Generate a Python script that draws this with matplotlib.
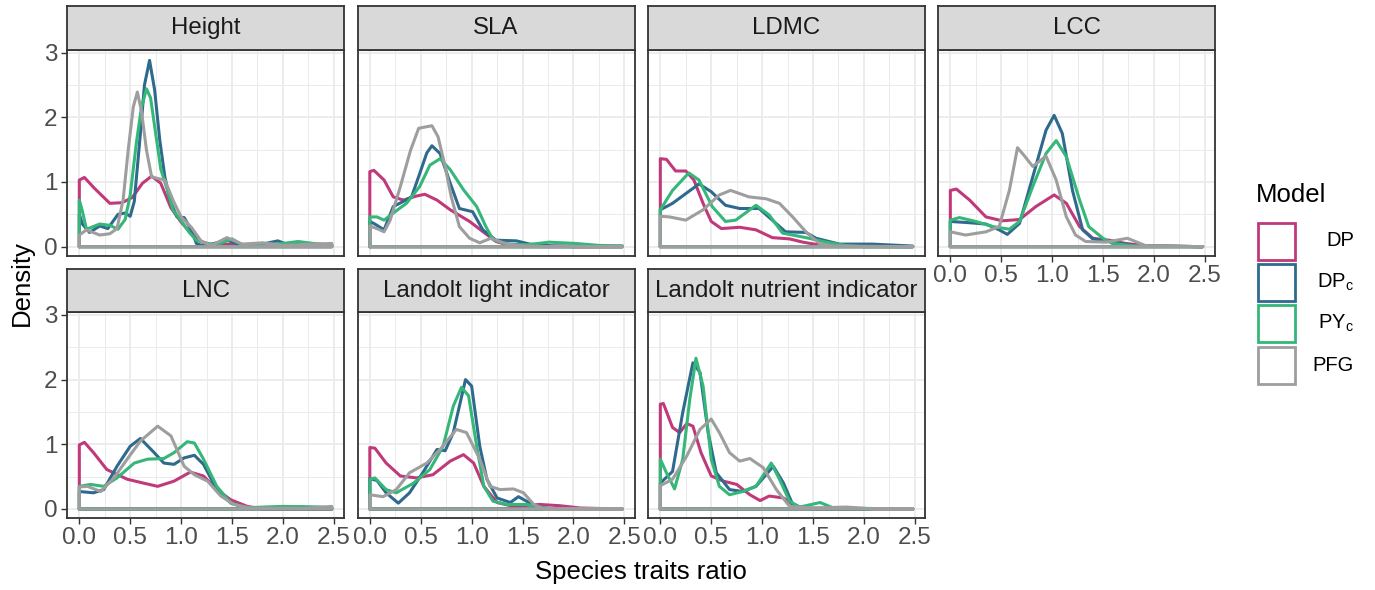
import matplotlib
matplotlib.use("Agg")
import matplotlib.pyplot as plt
from matplotlib.patches import Rectangle

plt.rcParams['font.family'] = ['Liberation Sans', 'DejaVu Sans']
plt.rcParams['mathtext.fontset'] = 'custom'
plt.rcParams['mathtext.rm'] = 'Liberation Sans'

# ---------------- data ----------------
models = ["DP", "DPc", "PYc", "PFG"]
model_labels = [r"DP", r"DP$_\mathregular{c}$", r"PY$_\mathregular{c}$", r"PFG"]
model_colors = ["#C0397A", "#2E6A8E", "#35B779", "#9E9E9E"]
panel_titles = ["Height", "SLA", "LDMC", "LCC", "LNC",
                "Landolt light indicator", "Landolt nutrient indicator"]
x_ticks = [0.0, 0.5, 1.0, 1.5, 2.0, 2.5]
x_tick_labels = ["0.0", "0.5", "1.0", "1.5", "2.0", "2.5"]
y_ticks = [0, 1, 2, 3]
y_tick_labels = ["0", "1", "2", "3"]

height_dp = [(0, 1.03), (0.05, 1.07), (0.15, 0.9), (0.3, 0.67), (0.42, 0.68), (0.52, 0.76),
             (0.62, 0.98), (0.71, 1.09), (0.8, 0.98), (0.9, 0.6), (1.0, 0.38), (1.1, 0.2),
             (1.2, 0.08), (1.3, 0.03), (1.5, 0.04), (1.7, 0.03), (2.0, 0.02), (2.3, 0.02), (2.48, 0.02)]
height_dpc = [(0, 0.5), (0.03, 0.35), (0.1, 0.22), (0.2, 0.32), (0.28, 0.28), (0.38, 0.5),
              (0.45, 0.52), (0.5, 0.47), (0.54, 0.7), (0.6, 1.75), (0.64, 2.5), (0.69, 2.88),
              (0.74, 2.42), (0.79, 1.65), (0.84, 1.08), (0.89, 0.72), (0.96, 0.46), (1.03, 0.45),
              (1.1, 0.26), (1.15, 0.05), (1.2, 0.02), (1.3, 0.04), (1.45, 0.1), (1.6, 0.02),
              (1.8, 0.04), (1.95, 0.09), (2.05, 0.03), (2.3, 0.04), (2.48, 0.03)]
height_pyc = [(0, 0.72), (0.03, 0.55), (0.07, 0.27), (0.12, 0.3), (0.2, 0.35), (0.3, 0.33),
              (0.38, 0.27), (0.45, 0.42), (0.5, 0.8), (0.56, 1.6), (0.61, 2.15), (0.66, 2.44),
              (0.7, 2.3), (0.75, 1.75), (0.8, 1.2), (0.86, 0.9), (0.92, 0.57), (1.0, 0.4),
              (1.08, 0.22), (1.15, 0.1), (1.25, 0.05), (1.35, 0.03), (1.5, 0.12), (1.6, 0.03),
              (1.8, 0.03), (2.0, 0.05), (2.15, 0.08), (2.3, 0.05), (2.48, 0.02)]
height_pfg = [(0, 0.18), (0.07, 0.26), (0.2, 0.18), (0.3, 0.2), (0.37, 0.28), (0.43, 0.72),
              (0.48, 1.49), (0.53, 2.16), (0.57, 2.39), (0.61, 2.1), (0.66, 1.49), (0.71, 1.08),
              (0.78, 1.05), (0.84, 1.03), (0.92, 0.72), (1.0, 0.46), (1.1, 0.3), (1.2, 0.08),
              (1.3, 0.02), (1.45, 0.14), (1.6, 0.04), (1.8, 0.06), (2.0, 0.02), (2.3, 0.04), (2.48, 0.05)]

sla_dp = [(0, 1.16), (0.04, 1.18), (0.14, 1.03), (0.23, 0.77), (0.33, 0.72), (0.45, 0.78),
          (0.54, 0.81), (0.66, 0.72), (0.79, 0.57), (0.98, 0.39), (1.18, 0.15), (1.24, 0.08),
          (1.35, 0.03), (1.6, 0.02), (2.0, 0.0), (2.48, 0.0)]
sla_dpc = [(0, 0.39), (0.05, 0.35), (0.14, 0.26), (0.23, 0.62), (0.33, 0.7), (0.41, 0.77),
           (0.49, 1.13), (0.56, 1.45), (0.61, 1.56), (0.69, 1.44), (0.79, 0.98), (0.88, 0.59),
           (1.01, 0.54), (1.11, 0.26), (1.24, 0.1), (1.44, 0.09), (1.57, 0.04), (1.8, 0.01), (2.48, 0.01)]
sla_pyc = [(0, 0.46), (0.07, 0.46), (0.14, 0.41), (0.23, 0.52), (0.36, 0.67), (0.49, 0.93),
           (0.59, 1.26), (0.69, 1.36), (0.79, 1.19), (0.92, 0.88), (1.05, 0.62), (1.14, 0.31),
           (1.21, 0.11), (1.34, 0.04), (1.55, 0.03), (1.76, 0.07), (2.02, 0.05), (2.25, 0.02), (2.48, 0.01)]
sla_pfg = [(0, 0.32), (0.07, 0.28), (0.14, 0.23), (0.2, 0.41), (0.3, 0.93), (0.4, 1.49),
           (0.48, 1.83), (0.61, 1.87), (0.67, 1.7), (0.74, 1.24), (0.8, 0.77), (0.88, 0.31),
           (0.98, 0.13), (1.08, 0.06), (1.19, 0.13), (1.31, 0.06), (1.44, 0.02), (1.7, 0.0), (2.48, 0.0)]

ldmc_dp = [(0, 1.36), (0.06, 1.35), (0.15, 1.17), (0.25, 1.17), (0.33, 1.03), (0.42, 0.67),
           (0.5, 0.39), (0.6, 0.28), (0.78, 0.3), (0.94, 0.26), (1.1, 0.14), (1.27, 0.12),
           (1.4, 0.07), (1.55, 0.03), (1.7, 0.01), (2.48, 0.0)]
ldmc_dpc = [(0, 0.57), (0.12, 0.67), (0.25, 0.82), (0.38, 0.97), (0.5, 0.85), (0.64, 0.64),
            (0.78, 0.59), (0.97, 0.59), (1.1, 0.41), (1.23, 0.23), (1.43, 0.22), (1.53, 0.13),
            (1.76, 0.04), (2.08, 0.04), (2.48, 0.01)]
ldmc_pyc = [(0, 0.57), (0.12, 0.87), (0.28, 1.14), (0.38, 1.03), (0.51, 0.62), (0.64, 0.39),
            (0.74, 0.41), (0.94, 0.64), (1.07, 0.49), (1.2, 0.21), (1.43, 0.14), (1.63, 0.07),
            (1.82, 0.02), (2.0, 0.0), (2.48, 0.0)]
ldmc_pfg = [(0, 0.47), (0.09, 0.46), (0.25, 0.41), (0.42, 0.57), (0.58, 0.8), (0.69, 0.87),
            (0.87, 0.77), (1.04, 0.74), (1.17, 0.67), (1.3, 0.46), (1.43, 0.23), (1.56, 0.05),
            (1.69, 0.01), (2.48, 0.0)]

lcc_dp = [(0, 0.87), (0.06, 0.89), (0.19, 0.72), (0.35, 0.46), (0.51, 0.4), (0.68, 0.42),
          (0.84, 0.62), (1.02, 0.8), (1.14, 0.67), (1.27, 0.31), (1.4, 0.13), (1.56, 0.1),
          (1.72, 0.05), (1.92, 0.015), (2.48, 0.0)]
lcc_dpc = [(0, 0.39), (0.19, 0.37), (0.35, 0.35), (0.48, 0.26), (0.56, 0.19), (0.68, 0.36),
           (0.81, 1.08), (0.94, 1.8), (1.02, 2.03), (1.1, 1.75), (1.2, 0.87), (1.3, 0.26),
           (1.4, 0.12), (1.56, 0.08), (1.82, 0.015), (2.48, 0.0)]
lcc_pyc = [(0, 0.41), (0.09, 0.45), (0.25, 0.39), (0.42, 0.31), (0.58, 0.27), (0.68, 0.39),
           (0.81, 0.93), (0.94, 1.44), (1.04, 1.64), (1.14, 1.39), (1.27, 0.72), (1.36, 0.31),
           (1.5, 0.13), (1.59, 0.05), (1.79, 0.015), (2.48, 0.0)]
lcc_pfg = [(0, 0.23), (0.15, 0.18), (0.35, 0.23), (0.48, 0.31), (0.58, 0.87), (0.66, 1.53),
           (0.73, 1.4), (0.81, 1.24), (0.94, 1.4), (1.04, 1.03), (1.14, 0.46), (1.23, 0.18),
           (1.33, 0.08), (1.53, 0.07), (1.74, 0.13), (1.92, 0.015), (2.48, 0.0)]

lnc_dp = [(0, 0.99), (0.05, 1.03), (0.14, 0.87), (0.27, 0.61), (0.47, 0.46), (0.63, 0.4),
          (0.77, 0.35), (0.93, 0.43), (1.09, 0.57), (1.22, 0.51), (1.35, 0.3), (1.49, 0.14),
          (1.65, 0.04), (1.8, 0.0), (2.48, 0.0)]
lnc_dpc = [(0, 0.27), (0.14, 0.25), (0.24, 0.3), (0.37, 0.66), (0.5, 0.97), (0.6, 1.09),
           (0.73, 0.88), (0.83, 0.71), (0.93, 0.69), (1.03, 0.79), (1.13, 0.83), (1.22, 0.69),
           (1.35, 0.3), (1.49, 0.09), (1.65, 0.02), (2.17, 0.03), (2.48, 0.02)]
lnc_pyc = [(0, 0.35), (0.11, 0.38), (0.24, 0.35), (0.37, 0.48), (0.54, 0.71), (0.67, 0.77),
           (0.83, 0.78), (0.93, 0.87), (1.06, 1.04), (1.13, 1.02), (1.22, 0.77), (1.35, 0.35),
           (1.49, 0.09), (1.65, 0.02), (2.0, 0.04), (2.34, 0.03), (2.48, 0.02)]
lnc_pfg = [(0, 0.34), (0.08, 0.35), (0.21, 0.27), (0.34, 0.48), (0.47, 0.77), (0.6, 1.05),
           (0.77, 1.28), (0.9, 1.13), (1.03, 0.66), (1.13, 0.53), (1.26, 0.43), (1.39, 0.2),
           (1.52, 0.07), (1.68, 0.015), (2.2, 0.01), (2.48, 0.04)]

light_dp = [(0, 0.95), (0.05, 0.94), (0.16, 0.71), (0.3, 0.51), (0.46, 0.48), (0.62, 0.53),
            (0.79, 0.74), (0.92, 0.84), (1.02, 0.71), (1.12, 0.35), (1.25, 0.1), (1.41, 0.04),
            (1.67, 0.07), (1.87, 0.05), (2.07, 0.015), (2.48, 0.0)]
light_dpc = [(0, 0.47), (0.07, 0.44), (0.16, 0.25), (0.28, 0.09), (0.39, 0.25), (0.52, 0.56),
             (0.66, 0.92), (0.74, 0.9), (0.82, 1.18), (0.94, 2.0), (1.0, 1.9), (1.08, 0.97),
             (1.15, 0.46), (1.25, 0.17), (1.38, 0.1), (1.46, 0.19), (1.54, 0.12), (1.64, 0.03),
             (1.8, 0.0), (2.48, 0.0)]
light_pyc = [(0, 0.46), (0.05, 0.48), (0.16, 0.3), (0.26, 0.25), (0.43, 0.4), (0.59, 0.61),
             (0.72, 0.97), (0.82, 1.59), (0.9, 1.88), (0.97, 1.75), (1.05, 0.97), (1.12, 0.35),
             (1.21, 0.12), (1.35, 0.07), (1.54, 0.07), (1.67, 0.03), (1.8, 0.0), (2.48, 0.0)]
light_pfg = [(0, 0.22), (0.13, 0.19), (0.26, 0.3), (0.39, 0.56), (0.56, 0.71), (0.69, 0.92),
             (0.85, 1.23), (0.95, 1.18), (1.08, 0.77), (1.18, 0.35), (1.28, 0.3), (1.41, 0.31),
             (1.51, 0.25), (1.61, 0.07), (1.71, 0.0), (2.48, 0.0)]

nutr_dp = [(0, 1.62), (0.03, 1.63), (0.12, 1.26), (0.19, 1.18), (0.26, 1.32), (0.32, 1.28),
           (0.4, 0.87), (0.5, 0.51), (0.62, 0.43), (0.75, 0.38), (0.88, 0.22), (0.98, 0.13),
           (1.07, 0.2), (1.21, 0.17), (1.34, 0.03), (1.5, 0.0), (2.48, 0.0)]
nutr_dpc = [(0, 0.4), (0.12, 0.58), (0.22, 1.49), (0.32, 2.26), (0.39, 2.11), (0.47, 1.18),
            (0.55, 0.56), (0.68, 0.3), (0.81, 0.27), (0.94, 0.35), (1.11, 0.66), (1.21, 0.4),
            (1.3, 0.07), (1.4, 0.015), (2.48, 0.0)]
nutr_pyc = [(0, 0.77), (0.06, 0.56), (0.14, 0.31), (0.22, 0.77), (0.29, 1.7), (0.35, 2.33),
            (0.42, 1.9), (0.5, 0.77), (0.58, 0.35), (0.68, 0.22), (0.81, 0.27), (0.94, 0.35),
            (1.09, 0.71), (1.17, 0.46), (1.27, 0.12), (1.37, 0.03), (1.57, 0.1), (1.7, 0.015), (2.48, 0.0)]
nutr_pfg = [(0, 0.36), (0.12, 0.46), (0.26, 0.82), (0.39, 1.23), (0.5, 1.39), (0.58, 1.18),
            (0.68, 0.87), (0.78, 0.74), (0.88, 0.78), (1.01, 0.64), (1.14, 0.3), (1.27, 0.04),
            (1.5, 0.015), (1.83, 0.03), (2.1, 0.0), (2.48, 0.0)]

panel_curves = [
    [height_dp, height_dpc, height_pyc, height_pfg],
    [sla_dp, sla_dpc, sla_pyc, sla_pfg],
    [ldmc_dp, ldmc_dpc, ldmc_pyc, ldmc_pfg],
    [lcc_dp, lcc_dpc, lcc_pyc, lcc_pfg],
    [lnc_dp, lnc_dpc, lnc_pyc, lnc_pfg],
    [light_dp, light_dpc, light_pyc, light_pfg],
    [nutr_dp, nutr_dpc, nutr_pyc, nutr_pfg],
]

# ---------------- layout ----------------
W, H = 1375, 590
fig = plt.figure(figsize=(W / 100, H / 100), dpi=100)
fig.patch.set_facecolor("white")


def rect(left, top, w, h):
    return [left / W, 1 - (top + h) / H, w / W, h / H]


col_left = [67, 357.5, 648, 938]
pw, ph = 277, 206
row_plot_top = [50, 312.3]
row_strip_top = [6, 269]
strip_h = [44, 43.3]

XLIM = (-0.121, 2.60)
YLIM = (-0.144, 3.04)
border_col = "#333333"
grid_col = "#EBEBEB"
tick_lab_col = "#4D4D4D"
TICK_FS = 17.5

for i, title in enumerate(panel_titles):
    r, c = divmod(i, 4)
    ax = fig.add_axes(rect(col_left[c], row_plot_top[r], pw, ph))
    ax.set_xlim(*XLIM)
    ax.set_ylim(*YLIM)
    ax.set_facecolor("white")
    ax.set_xticks(x_ticks)
    ax.set_yticks(y_ticks)
    ax.set_xticks([0.25, 0.75, 1.25, 1.75, 2.25], minor=True)
    ax.set_yticks([0.5, 1.5, 2.5], minor=True)
    ax.grid(True, which="major", color=grid_col, lw=1.3, zorder=0)
    ax.grid(True, which="minor", color=grid_col, lw=0.7, zorder=0)
    ax.set_axisbelow(True)
    for s in ax.spines.values():
        s.set_color(border_col)
        s.set_linewidth(1.3)
        s.set_zorder(5)
    ax.tick_params(which="minor", length=0)
    show_x = (r == 1) or (c == 3)
    show_y = (c == 0)
    ax.tick_params(axis="x", which="major", length=4 if show_x else 0, width=1.0,
                   color=border_col, labelsize=TICK_FS, labelcolor=tick_lab_col, pad=2.5,
                   labelbottom=show_x)
    ax.tick_params(axis="y", which="major", length=4 if show_y else 0, width=1.0,
                   color=border_col, labelsize=TICK_FS, labelcolor=tick_lab_col, pad=3,
                   labelleft=show_y)
    if show_x:
        ax.set_xticklabels(x_tick_labels)
    if show_y:
        ax.set_yticklabels(y_tick_labels)

    for pts, col in zip(panel_curves[i], model_colors):
        xs = [p[0] for p in pts]
        ys = [p[1] for p in pts]
        px = [xs[0]] + xs + [xs[-1], xs[0]]
        py = [0.0] + ys + [0.0, 0.0]
        ax.plot(px, py, color=col, lw=2.2, solid_joinstyle="round",
                solid_capstyle="round", zorder=3)

    sax = fig.add_axes(rect(col_left[c], row_strip_top[r], pw, strip_h[r]))
    sax.set_facecolor("#D9D9D9")
    sax.set_xticks([])
    sax.set_yticks([])
    for s in sax.spines.values():
        s.set_color(border_col)
        s.set_linewidth(1.3)
    sax.text(0.5, 0.5, title, ha="center", va="center", fontsize=17.3,
             color="#1A1A1A", transform=sax.transAxes)

# axis titles
fig.text(641 / W, 1 - 572 / H, "Species traits ratio", ha="center", va="center",
         fontsize=18.5, color="black")
fig.text(22 / W, 1 - 283 / H, "Density", ha="center", va="center", rotation=90,
         fontsize=18.5, color="black")

# legend
fig.text(1256 / W, 1 - 195 / H, "Model", ha="left", va="center", fontsize=18.5, color="black")
key_centers = [241, 282, 323.5, 365.5]
for lab, col, yc in zip(model_labels, model_colors, key_centers):
    x0, x1 = 1258, 1294.5
    y0, y1 = yc - 18.5, yc + 18.5
    fig.patches.append(Rectangle((x0 / W, 1 - y1 / H), (x1 - x0) / W, (y1 - y0) / H,
                                 transform=fig.transFigure, facecolor="white",
                                 edgecolor=col, lw=2.0, zorder=3))
    fig.text(1354 / W, 1 - yc / H, lab, ha="right", va="center", fontsize=14.5,
             color="black")

fig.savefig("out.png", dpi=100, facecolor="white")
